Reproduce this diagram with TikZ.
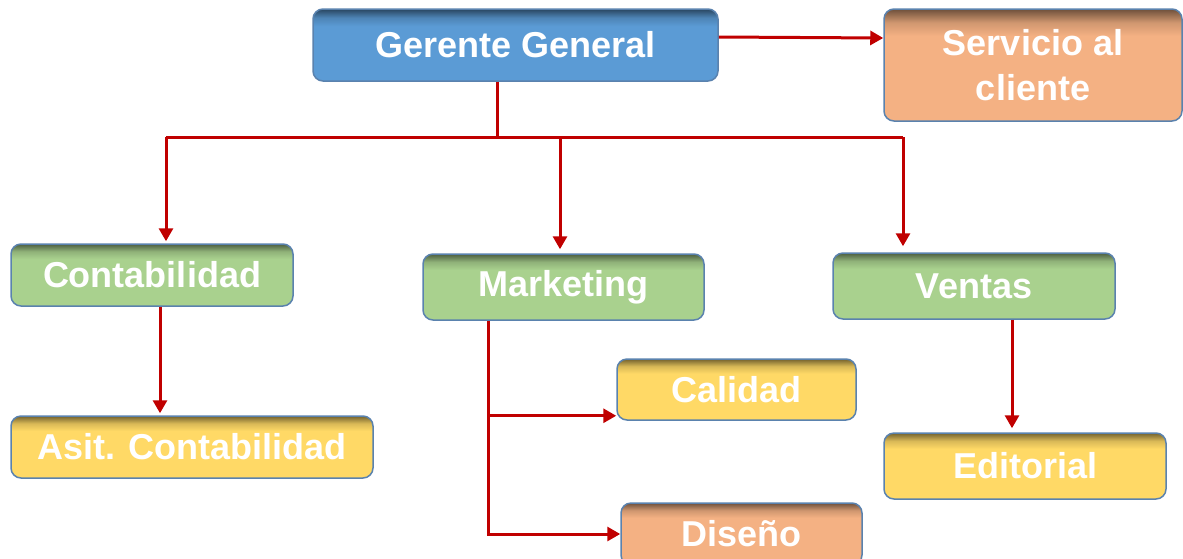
\documentclass[tikz,border=0pt]{standalone}
\usepackage{fontspec}
\setmainfont{Liberation Sans}
\usetikzlibrary{arrows.meta,calc}
\definecolor{cblue}{HTML}{5B9BD5}
\definecolor{corange}{HTML}{F4B183}
\definecolor{cgreen}{HTML}{A9D18E}
\definecolor{cyellow}{HTML}{FFD966}
\definecolor{cborder}{HTML}{5A82AE}
\definecolor{cred}{HTML}{C00000}
\colorlet{main}{cblue}
\pgfdeclareverticalshading[main]{topshade}{100bp}{color(0bp)=(main); color(63bp)=(main); color(69bp)=(main!85!black); color(75bp)=(main!45!black); color(100bp)=(main!45!black)}
\tikzset{
  box/.style={rectangle, rounded corners=10pt, draw=cborder, line width=1.5pt,
    /utils/exec={\colorlet{main}{#1}}, shade, shading=topshade,
    inner sep=0pt, align=center, text=white,
    font=\fontsize{36}{45}\selectfont\bfseries},
  arr/.style={draw=cred, line width=3pt, -{Triangle[length=13pt,width=14pt]}},
  ln/.style={draw=cred, line width=3pt},
}
\begin{document}
\begin{tikzpicture}[x=1pt,y=-1pt]
\useasboundingbox (0,0) rectangle (1183,558);
\clip (0,0) rectangle (1183,558);
\node[box=cblue, minimum width=405pt, minimum height=72pt] (gg) at (515.5,45) {Gerente General};
\node[box=corange, minimum width=298pt, minimum height=112pt] (serv) at (1033,65) {Servicio al\\cliente};
\node[box=cgreen, minimum width=282pt, minimum height=62pt] (cont) at (152,275) {Contabilidad};
\node[box=cgreen, minimum width=281pt, minimum height=66pt] (mkt) at (563.5,287) {Marketing};
\node[box=cgreen, minimum width=282pt, minimum height=66pt] (ven) at (974,286) {Ventas};
\node[box=cyellow, minimum width=362pt, minimum height=62pt] (asit) at (192,447) {Asit. Contabilidad};
\node[box=cyellow, minimum width=239pt, minimum height=61pt] (cal) at (736.5,389.5) {Calidad};
\node[box=corange, minimum width=241pt, minimum height=62pt] (dis) at (741.5,534) {Diseño};
\node[box=cyellow, minimum width=282pt, minimum height=66pt] (edi) at (1025,466) {Editorial};
% coordinates
\coordinate (bus) at (497,137);
\coordinate (jl) at (166,137);
\coordinate (jm) at (560,137);
\coordinate (jr) at (903,137);
\coordinate (cx) at (160,0);
\coordinate (mx) at (488,0);
\coordinate (vx) at (1012,0);
\coordinate (calp) at ([yshift=5pt]cal.south west);
% connectors
\draw[arr] ([yshift=8pt]gg.east) -- ([yshift=27pt]serv.west);
\draw[ln] (gg.south -| bus) -- (bus);
\draw[ln] (jl) -- (jr);
\draw[arr] (jl) -- ([yshift=2pt]jl |- cont.north);
\draw[arr] (jm) -- ([yshift=4pt]jm |- mkt.north);
\draw[arr] (jr) -- ([yshift=6pt]jr |- ven.north);
\draw[arr] (cont.south -| cx) -- ([yshift=2pt]asit.north -| cx);
\draw[arr] (ven.south -| vx) -- ([yshift=4pt]edi.north -| vx);
\draw[arr] (mkt.south -| mx) |- (dis.west);
\draw[arr] (mx |- calp) -- (calp);
\end{tikzpicture}
\end{document}
